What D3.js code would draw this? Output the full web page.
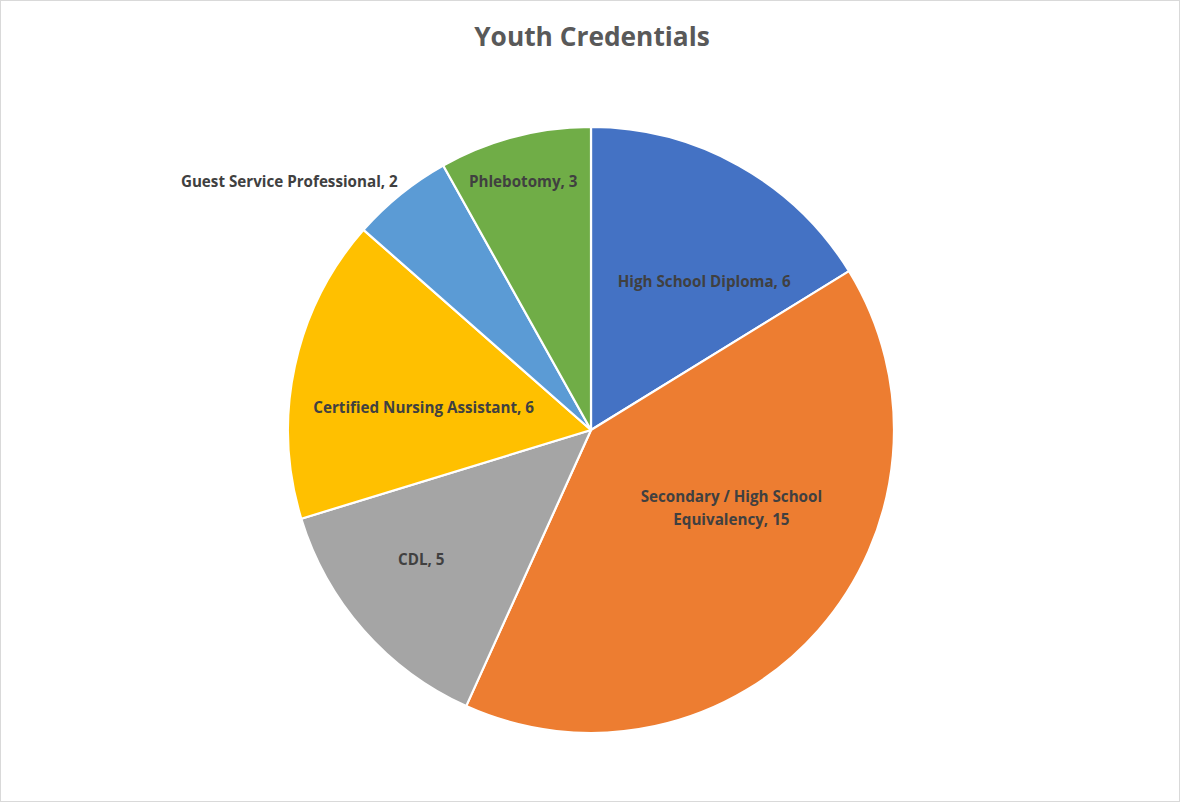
<!DOCTYPE html>
<html><head><meta charset="utf-8">
<script src="https://cdn.jsdelivr.net/npm/d3@7/dist/d3.min.js"></script>
<style>body{margin:0;background:#fff}svg{display:block}</style>
</head><body>
<svg id="chart" width="1181" height="803"></svg>
<script>
const categories = ["High School Diploma", "Secondary / High School Equivalency", "CDL", "Certified Nursing Assistant", "Guest Service Professional", "Phlebotomy"];
const values = [6, 15, 5, 6, 2, 3];
const labelLines = [["High School Diploma, 6"], ["Secondary / High School", "Equivalency, 15"], ["CDL, 5"], ["Certified Nursing Assistant, 6"], ["Guest Service Professional, 2"], ["Phlebotomy, 3"]];
const colors = ["#4472C4", "#ED7D31", "#A5A5A5", "#FFC000", "#5B9BD5", "#70AD47"];
// label placement: radius factor and angle shift (degrees)
const labelPolar = [[0.615, 8.2], [0.53, -12.3], [0.705, 4.0], [0.557, -4.7], [1.29, -11.6], [0.848, -0.7]];

const W = 1181, H = 803, cx = 591, cy = 430, R = 303;
const svg = d3.select("#chart");
svg.append("rect").attr("x", 0.5).attr("y", 0.5).attr("width", W - 2).attr("height", H - 2)
  .attr("fill", "#fff").attr("stroke", "#d9d9d9");

svg.append("text").attr("x", 592).attr("y", 46).attr("text-anchor", "middle")
  .attr("font-family", "'Open Sans', Lato, sans-serif").attr("font-weight", "bold")
  .attr("font-size", 26.3).attr("fill", "#595959").text("Youth Credentials");

const data = categories.map((c, i) => ({ c, v: values[i], i }));
const pie = d3.pie().value(d => d.v).sort(null);
const arcs = pie(data);
const arc = d3.arc().innerRadius(0).outerRadius(R);
const g = svg.append("g").attr("transform", `translate(${cx},${cy})`);
g.selectAll("path").data(arcs).join("path")
  .attr("d", arc).attr("fill", d => colors[d.data.i])
  .attr("stroke", "#fff").attr("stroke-width", 2.2).attr("stroke-linejoin", "round");

arcs.forEach(d => {
  const [k, da] = labelPolar[d.data.i];
  const a = (d.startAngle + d.endAngle) / 2 + da * Math.PI / 180;
  const x = Math.sin(a) * R * k, y = -Math.cos(a) * R * k;
  const lines = labelLines[d.data.i];
  const t = g.append("text").attr("text-anchor", "middle")
    .attr("font-family", "'Open Sans', Lato, sans-serif").attr("font-weight", "bold")
    .attr("font-size", 15.2).attr("fill", "#404040");
  lines.forEach((ln, j) => {
    t.append("tspan").attr("x", x).attr("y", y + (j - (lines.length - 1) / 2) * 23)
      .attr("dy", "0.35em").text(ln);
  });
});
</script>
</body></html>
